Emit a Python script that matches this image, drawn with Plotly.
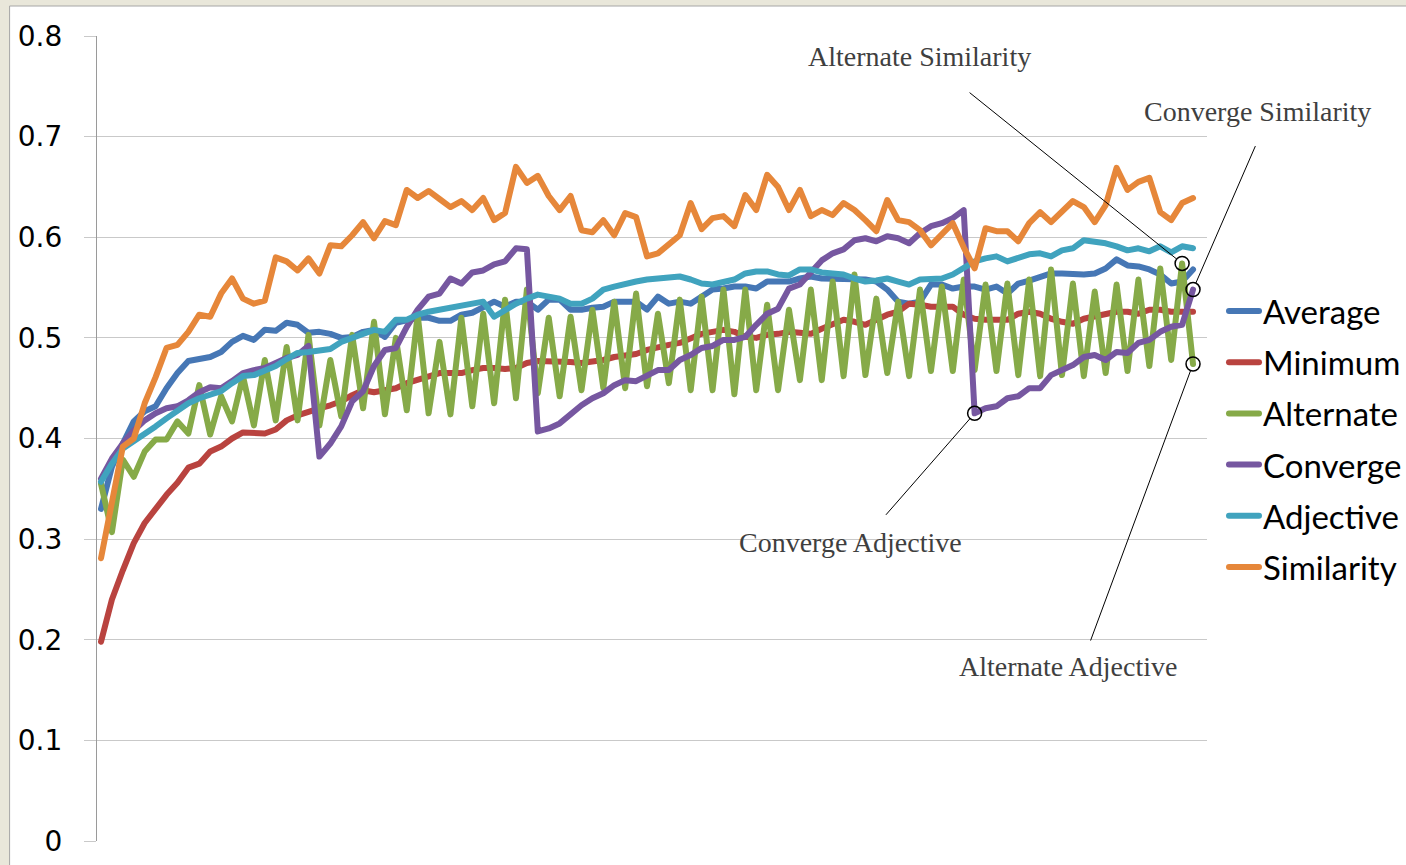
import plotly.graph_objects as go

steps = list(range(101))

average = [0.330, 0.372, 0.395, 0.417, 0.427, 0.432, 0.450, 0.465, 0.477, 0.479, 0.481, 0.486, 0.496, 0.502, 0.498, 0.508, 0.507, 0.515, 0.513,
           0.505, 0.506, 0.504, 0.500, 0.501, 0.506, 0.508, 0.501, 0.515, 0.518, 0.520, 0.520, 0.517, 0.517, 0.523, 0.525, 0.530,
           0.536, 0.531, 0.536, 0.536, 0.528, 0.538, 0.538, 0.528, 0.528, 0.530, 0.531, 0.536, 0.536, 0.536, 0.528, 0.541, 0.534,
           0.536, 0.534, 0.541, 0.548, 0.549, 0.551, 0.551, 0.549, 0.556, 0.556, 0.556, 0.559, 0.561, 0.559, 0.559, 0.558,
           0.559, 0.558, 0.556, 0.548, 0.536, 0.534, 0.536, 0.553, 0.553, 0.549, 0.551, 0.551, 0.548, 0.551, 0.544, 0.554, 0.557,
           0.561, 0.564, 0.564, 0.563, 0.563, 0.564, 0.569, 0.578, 0.572, 0.571, 0.568, 0.563, 0.554, 0.556, 0.568]

minimum = [0.198, 0.240, 0.269, 0.296, 0.316, 0.331, 0.344, 0.356, 0.371, 0.375, 0.387, 0.392, 0.400, 0.406, 0.405, 0.405, 0.409, 0.418, 0.423,
           0.427, 0.430, 0.433, 0.437, 0.443, 0.448, 0.446, 0.448, 0.450, 0.455, 0.458, 0.461, 0.465, 0.465, 0.465, 0.468, 0.470,
           0.470, 0.469, 0.470, 0.475, 0.477, 0.477, 0.477, 0.476, 0.475, 0.476, 0.478, 0.481, 0.483, 0.484, 0.488, 0.491, 0.493,
           0.495, 0.499, 0.504, 0.506, 0.508, 0.506, 0.501, 0.500, 0.503, 0.504, 0.506, 0.505, 0.504, 0.509, 0.513, 0.518,
           0.516, 0.513, 0.518, 0.523, 0.526, 0.534, 0.533, 0.531, 0.531, 0.531, 0.523, 0.519, 0.518, 0.518, 0.518, 0.524, 0.526,
           0.524, 0.519, 0.516, 0.514, 0.519, 0.521, 0.524, 0.526, 0.526, 0.524, 0.528, 0.528, 0.526, 0.526, 0.526]

alternate = [0.355, 0.307, 0.379, 0.362, 0.387, 0.399, 0.399, 0.417, 0.405, 0.453, 0.404, 0.442, 0.417, 0.462, 0.413, 0.478, 0.418, 0.491, 0.418,
             0.503, 0.413, 0.478, 0.422, 0.503, 0.430, 0.516, 0.424, 0.500, 0.428, 0.523, 0.425, 0.496, 0.424, 0.520, 0.432, 0.524,
             0.435, 0.538, 0.440, 0.548, 0.445, 0.520, 0.442, 0.521, 0.448, 0.528, 0.450, 0.536, 0.450, 0.544, 0.452, 0.524, 0.455,
             0.538, 0.448, 0.541, 0.448, 0.548, 0.444, 0.548, 0.448, 0.533, 0.448, 0.528, 0.458, 0.548, 0.458, 0.556, 0.462,
             0.563, 0.463, 0.539, 0.465, 0.536, 0.462, 0.548, 0.467, 0.551, 0.467, 0.558, 0.468, 0.553, 0.467, 0.554, 0.463, 0.558,
             0.462, 0.568, 0.463, 0.554, 0.462, 0.546, 0.465, 0.553, 0.467, 0.558, 0.472, 0.569, 0.478, 0.574, 0.474]

converge = [0.360, 0.380, 0.395, 0.408, 0.418, 0.425, 0.430, 0.432, 0.438, 0.446, 0.451, 0.450, 0.457, 0.465, 0.468, 0.470, 0.475, 0.480, 0.483,
            0.492, 0.382, 0.395, 0.412, 0.437, 0.447, 0.472, 0.488, 0.490, 0.511, 0.528, 0.541, 0.544, 0.559, 0.554, 0.565, 0.567,
            0.573, 0.576, 0.589, 0.588, 0.407, 0.410, 0.415, 0.424, 0.433, 0.440, 0.445, 0.453, 0.458, 0.457, 0.462, 0.468, 0.468,
            0.478, 0.483, 0.490, 0.492, 0.498, 0.498, 0.501, 0.513, 0.524, 0.529, 0.549, 0.553, 0.564, 0.577, 0.584, 0.588,
            0.597, 0.599, 0.596, 0.601, 0.599, 0.594, 0.604, 0.611, 0.614, 0.619, 0.627, 0.425, 0.430, 0.432, 0.440, 0.442, 0.450,
            0.450, 0.463, 0.468, 0.473, 0.481, 0.483, 0.478, 0.486, 0.485, 0.495, 0.498, 0.506, 0.511, 0.513, 0.548]

adjective = [0.357, 0.375, 0.390, 0.397, 0.405, 0.412, 0.420, 0.428, 0.435, 0.440, 0.444, 0.447, 0.455, 0.462, 0.463, 0.467, 0.472, 0.479, 0.485,
             0.486, 0.488, 0.489, 0.496, 0.500, 0.505, 0.508, 0.506, 0.518, 0.518, 0.523, 0.526, 0.528, 0.530, 0.531, 0.533, 0.536,
             0.521, 0.528, 0.534, 0.539, 0.543, 0.541, 0.539, 0.534, 0.534, 0.539, 0.548, 0.551, 0.554, 0.556, 0.558, 0.559, 0.561,
             0.561, 0.558, 0.554, 0.553, 0.556, 0.558, 0.564, 0.566, 0.566, 0.563, 0.562, 0.568, 0.568, 0.565, 0.564, 0.563,
             0.559, 0.556, 0.557, 0.559, 0.556, 0.553, 0.558, 0.559, 0.559, 0.563, 0.569, 0.576, 0.579, 0.581, 0.576, 0.579, 0.583,
             0.584, 0.581, 0.587, 0.589, 0.597, 0.596, 0.594, 0.591, 0.587, 0.589, 0.586, 0.591, 0.585, 0.591, 0.589]

similarity = [0.281, 0.336, 0.392, 0.400, 0.435, 0.461, 0.490, 0.493, 0.506, 0.523, 0.521, 0.544, 0.559, 0.539, 0.534, 0.537, 0.580, 0.576, 0.567,
              0.579, 0.564, 0.592, 0.591, 0.602, 0.615, 0.599, 0.616, 0.612, 0.647, 0.639, 0.646, 0.638, 0.630, 0.636, 0.627, 0.639,
              0.617, 0.624, 0.670, 0.654, 0.661, 0.641, 0.627, 0.641, 0.607, 0.605, 0.617, 0.602, 0.624, 0.620, 0.581, 0.584, 0.594,
              0.602, 0.634, 0.608, 0.619, 0.621, 0.611, 0.642, 0.627, 0.662, 0.650, 0.627, 0.647, 0.621, 0.627, 0.622, 0.634,
              0.627, 0.617, 0.606, 0.637, 0.617, 0.615, 0.607, 0.592, 0.604, 0.614, 0.590, 0.569, 0.609, 0.606, 0.606, 0.596, 0.614,
              0.625, 0.615, 0.625, 0.636, 0.630, 0.615, 0.632, 0.669, 0.647, 0.655, 0.659, 0.625, 0.617, 0.634, 0.639]

series_names = ["Average", "Minimum", "Alternate", "Converge", "Adjective", "Similarity"]
series_values = [average, minimum, alternate, converge, adjective, similarity]
series_colors = ["#4677b5", "#b9433f", "#86aa48", "#7657a0", "#40a3be", "#e6873a"]

y_ticks = [0, 0.1, 0.2, 0.3, 0.4, 0.5, 0.6, 0.7, 0.8]
y_tick_labels = ["0", "0.1", "0.2", "0.3", "0.4", "0.5", "0.6", "0.7", "0.8"]

# callouts: (label, series index, step index)
callouts = [("Alternate Similarity", 2, 99), ("Converge Similarity", 3, 100),
            ("Converge Adjective", 3, 80), ("Alternate Adjective", 2, 100)]

W, H = 1406, 865
L, R, T, B = 97, 199, 36, 24
PW, PH = W - L - R, H - T - B


def px_to_paper(px, py):
    return (px - L) / PW, (H - B - py) / PH


fig = go.Figure()
for name, vals, col in zip(series_names, series_values, series_colors):
    fig.add_trace(go.Scatter(
        x=steps, y=vals, mode="lines", name=name, showlegend=False,
        line=dict(color=col, width=6, shape="linear"),
        hoverinfo="skip"))

# circle markers on the called-out points
cx = [steps[s] for _, k, s in callouts]
cy = [series_values[k][s] for _, k, s in callouts]
fig.add_trace(go.Scatter(
    x=cx, y=cy, mode="markers", showlegend=False, hoverinfo="skip",
    marker=dict(size=14, color="rgba(0,0,0,0)", line=dict(color="black", width=1.5))))

# leader lines (arrow tail offsets in px) and label positions (px)
tails = [(-214, -172), (63, -145), (-90, 103), (-103, 278)]
label_pos = [(919, 56), (1257, 112), (850, 542), (1068, 666)]

annotations = []
for (label, k, s), (ax, ay), (lx, ly) in zip(callouts, tails, label_pos):
    annotations.append(dict(
        x=steps[s], y=series_values[k][s], xref="x", yref="y",
        text="", showarrow=True, arrowhead=0, arrowwidth=1, arrowcolor="black",
        ax=ax, ay=ay, standoff=7, startstandoff=0))
    pxp, pyp = px_to_paper(lx, ly)
    annotations.append(dict(
        x=pxp, y=pyp, xref="paper", yref="paper", text=label, showarrow=False,
        xanchor="center", yanchor="middle",
        font=dict(family="Liberation Serif, DejaVu Serif, serif", size=28, color="#3f3f3f")))

# white chart panel on textured-paper background
x0p, y1p = px_to_paper(10, 6)
x1p, y0p = px_to_paper(1420, 880)
shapes = [dict(type="rect", xref="paper", yref="paper", x0=x0p, x1=x1p, y0=y0p, y1=y1p,
               fillcolor="white", line=dict(color="#a6a6a6", width=1), layer="below")]

# legend (drawn as keyed line samples with labels, right of the plot)
leg_top, leg_step = 311, 51.2
for j, (name, col) in enumerate(zip(series_names, series_colors)):
    ry = leg_top + j * leg_step
    lx0, ly = px_to_paper(1229, ry)
    lx1, _ = px_to_paper(1259, ry)
    shapes.append(dict(type="line", xref="paper", yref="paper", x0=lx0, x1=lx1, y0=ly, y1=ly,
                       line=dict(color=col, width=6)))
    tx, _ = px_to_paper(1261, ry)
    annotations.append(dict(x=tx, y=ly, xref="paper", yref="paper", text=name, showarrow=False,
                            xanchor="left", yanchor="middle",
                            font=dict(family="Lato, Open Sans, sans-serif", size=33, color="#000000")))

fig.update_layout(
    width=W, height=H,
    margin=dict(l=L, r=R, t=T, b=B),
    paper_bgcolor="#e9e7da",
    plot_bgcolor="white",
    shapes=shapes,
    annotations=annotations,
    showlegend=False,
    xaxis=dict(range=[-0.366, 101.28], showgrid=False, zeroline=False, showline=False,
               showticklabels=False, ticks=""),
    yaxis=dict(range=[0, 0.8], tickvals=y_ticks, ticktext=y_tick_labels,
               showgrid=True, gridcolor="#c9c9c9", gridwidth=1.2, zeroline=False,
               showline=True, linecolor="#9a9a9a", linewidth=1.2,
               ticks="outside", ticklen=12, tickcolor="#c9c9c9", tickwidth=1.2,
               ticklabelstandoff=16, automargin=False,
               tickfont=dict(family="DejaVu Sans, Verdana, sans-serif", size=28, color="#000000")),
)

post = ("document.body.style.margin='0';document.body.style.overflow='hidden';"
        "document.querySelectorAll('.scatterlayer .js-line').forEach(function(p){"
        "p.style.strokeLinejoin='round';p.style.strokeLinecap='round';});"
        "document.querySelectorAll('.shapelayer path').forEach(function(p){"
        "p.style.strokeLinecap='round';});")

fig.write_html("out.html", config={"displayModeBar": False}, post_script=post)
